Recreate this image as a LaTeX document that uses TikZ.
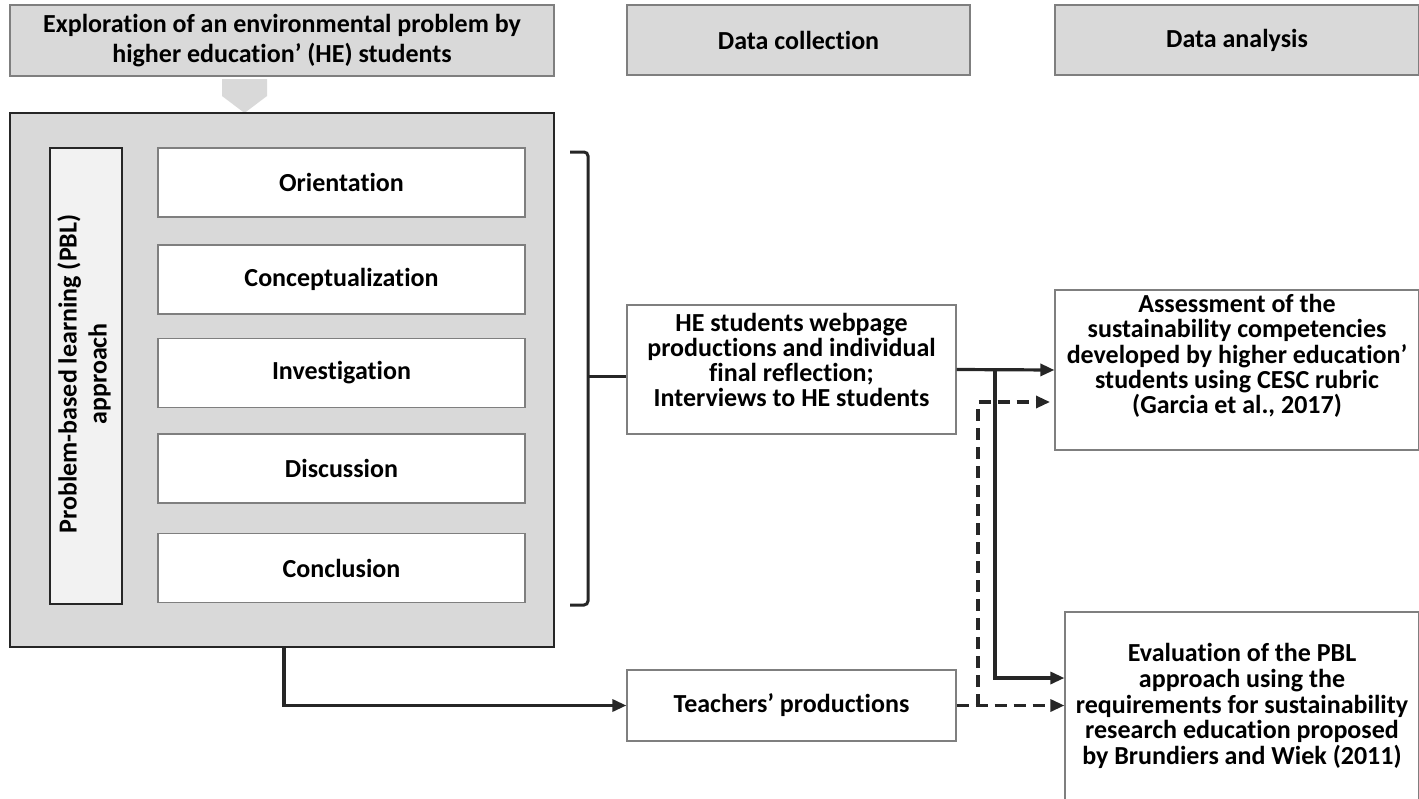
\documentclass[tikz,border=0pt]{standalone}
\usepackage{fontspec}
\setmainfont{Carlito}[Ligatures=NoCommon]
\usetikzlibrary{arrows.meta}
\definecolor{headgray}{HTML}{D9D9D9}
\definecolor{pblgray}{HTML}{F2F2F2}
\definecolor{linegray}{HTML}{7F7F7F}
\definecolor{darkline}{HTML}{262626}
\begin{document}
\begin{tikzpicture}[x=0.5pt, y=-0.5pt, >={Triangle[length=7pt,width=6pt]},
    every node/.style={font=\bfseries\fontsize{13}{12.6}\selectfont, align=center, inner sep=0pt},
    head/.style={draw=linegray, fill=headgray, line width=0.6pt, minimum height=35pt},
    phase/.style={draw=linegray, fill=white, line width=0.6pt, minimum width=183.5pt, minimum height=34.5pt},
    result/.style={draw=linegray, fill=white, line width=0.6pt},
    link/.style={->, line width=1.6pt, darkline},
    dlink/.style={->, line width=1.6pt, darkline, dash pattern=on 6pt off 3.5pt}]
  \useasboundingbox (0,0) rectangle (1419,798);
  \clip (0,0) rectangle (1419,798);
  % headers
  \node[head, minimum width=272pt, minimum height=35.5pt, font=\bfseries\fontsize{13}{15}\selectfont] (head1) at (282,40.5)
    {Exploration of an environmental problem by\\higher education' (HE) students};
  \node[head, minimum width=171.5pt] (head2) at (798.5,40) {Data collection};
  \node[head, minimum width=182pt] (head3) at (1237,40) {Data analysis};
  % gray arrow under the first header
  \fill[headgray] (222,79) -- (267,79) -- (267,96) -- (244.5,113) -- (222,96) -- cycle;
  % PBL frame
  \node[draw=darkline, fill=headgray, line width=0.7pt, minimum width=272pt, minimum height=267pt] (frame) at (282,380) {};
  \node[draw=darkline, fill=pblgray, line width=0.7pt, minimum width=36pt, minimum height=228pt] (pbl) at (86,376) {};
  \node[rotate=90, font=\bfseries\fontsize{13}{15}\selectfont] (pbltxt) at (84,374) {Problem-based learning (PBL)\\approach};
  \node[phase] (orient) at (341.5,182.5) {Orientation};
  \node[phase] (concept) at (341.5,279.5) {Conceptualization};
  \node[phase] (invest) at (341.5,373) {Investigation};
  \node[phase] (discuss) at (341.5,468.5) {Discussion};
  \node[phase] (concl) at (341.5,568) {Conclusion};
  % data collection
  \node[result, minimum width=164.5pt, minimum height=64.5pt] (hestud) at (791.5,369.5) {};
  \node (hetxt) at (791.5,360)
    {HE students webpage\\productions and individual\\final reflection;\\Interviews to HE students};
  \node[result, minimum width=164.5pt, minimum height=35.5pt] (teach) at (791.5,705.5) {Teachers' productions};
  % data analysis
  \node[result, minimum width=182pt, minimum height=80pt] (assess) at (1237,370) {};
  \node (assesstxt) at (1237,356)
    {Assessment of the\\sustainability competencies\\developed by higher education'\\students using CESC rubric\\(Garcia et al., 2017)};
  \node[result, minimum width=177pt, minimum height=99pt] (evalu) at (1242,711) {};
  \node[font=\bfseries\fontsize{13}{12.9}\selectfont] (evalutxt) at (1242,706)
    {Evaluation of the PBL\\approach using the\\requirements for sustainability\\research education proposed\\by Brundiers and Wiek (2011)};
  % bracket
  \draw[darkline, line width=1.5pt, rounded corners=2pt] (570,152) -- (588,152) -- (588,605) -- (570,605);
  \coordinate (brace) at (588,376);
  \draw[darkline, line width=1.5pt] (brace) -- (hestud.west |- brace);
  % connectors
  \coordinate (split) at (995,370);
  \coordinate (dsplit) at (978,705.5);
  \draw[link] (hestud.east) -- (assess.west);
  \draw[link] (split) -- (995,678) -- (evalu.west |- 0,678);
  \draw[dlink] (teach.east) -- (teach.east -| evalu.west);
  \draw[dlink] (dsplit) -- (978,402) -- (1050,402);
  \draw[link] (frame.south -| 284,0) -- (284,705.5) -- (teach.west);
\end{tikzpicture}
\end{document}
